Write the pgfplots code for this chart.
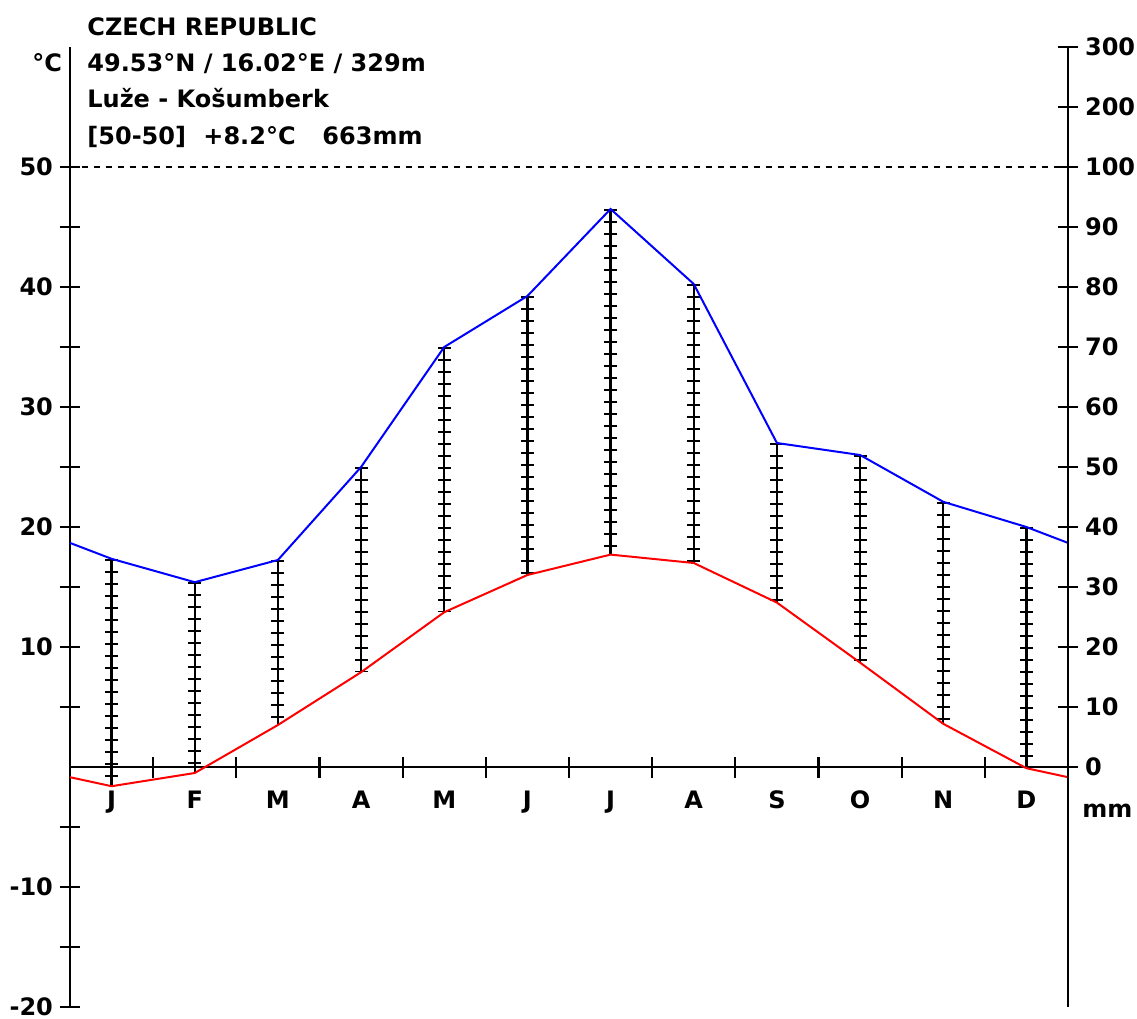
\documentclass[border=0pt]{standalone}
\usepackage{fontspec}
\setmainfont{DejaVu Sans}
\usepackage{pgfplots}
\pgfplotsset{compat=1.18}
\usepackage{pgfplotstable}

% monthly means: x = month centre, T in degC, P in mm
\pgfplotstableread{
x T P
0 -0.85 37.35
0.5 -1.6 34.7
1.5 -0.5 30.8
2.5 3.5 34.5
3.5 7.9 50.0
4.5 12.9 70.0
5.5 16.0 78.5
6.5 17.7 93.0
7.5 17.0 80.5
8.5 13.7 54.0
9.5 8.7 52.0
10.5 3.6 44.2
11.5 -0.1 40.0
12 -0.85 37.35
}\edges
\pgfplotstableread{
x T P
0.5 -1.6 34.7
1.5 -0.5 30.8
2.5 3.5 34.5
3.5 7.9 50.0
4.5 12.9 70.0
5.5 16.0 78.5
6.5 17.7 93.0
7.5 17.0 80.5
8.5 13.7 54.0
9.5 8.7 52.0
10.5 3.6 44.2
11.5 -0.1 40.0
}\months

\newcommand\f{\fontsize{12}{14}\selectfont\bfseries}

\begin{document}
\begin{tikzpicture}
\begin{axis}[
  at={(0,0)}, anchor=south west, scale only axis,
  width=499pt, height=480pt,
  xmin=0, xmax=12, ymin=-20, ymax=60,
  axis x line=middle, axis y line=left,
  axis line style={-, line width=1.2pt},
  tick align=center,
  major tick length=10pt, minor tick length=10.5pt,
  every tick/.style={black, line width=1.1pt},
  xtick={0.5,1.5,...,11.5},
  xticklabels={J,F,M,A,M,J,J,A,S,O,N,D},
  xticklabel style={yshift=-3.5pt},
  minor xtick={1,...,11},
  major x tick style={draw=none},
  minor x tick style={black, line width=1.1pt},
  ytick={-20,-10,10,20,30,40,50},
  yticklabels={-20,-10,10,20,30,40,50},
  minor ytick={-15,-5,5,15,25,35,45},
  minor y tick style={black, line width=1.1pt},
  ticklabel style={font=\f},
  clip=false,
]
\addplot[black, line width=0.7pt, dash pattern=on 3pt off 3pt] coordinates {(0,50) (12,50)};
\addplot[draw=none, no markers, forget plot,
  error bars/.cd, y dir=minus, y explicit, error mark=none,
  error bar style={draw=black, solid, line width=1.2pt}]
  table[x=x, y expr=\thisrow{P}/2, y error expr=\thisrow{P}/2-\thisrow{T}] {\months};
\addplot[draw=none, no markers, forget plot,
  error bars/.cd, y dir=minus, y explicit, error mark=none,
  error bar style={draw=black, line width=6.5pt, dash pattern=on 1.1pt off 4.9pt}]
  table[x=x, y expr=\thisrow{P}/2, y error expr=\thisrow{P}/2-\thisrow{T}] {\months};
\addplot[blue, line width=1pt] table[x=x, y expr=\thisrow{P}/2] {\edges};
\addplot[red, line width=1pt] table[x=x, y=T] {\edges};
\end{axis}
\begin{axis}[
  at={(0,0)}, anchor=south west, scale only axis,
  width=499pt, height=480pt,
  xmin=0, xmax=12, ymin=-20, ymax=60,
  axis x line=none, axis y line=right,
  axis line style={-, line width=1.2pt},
  tick align=center,
  major tick length=10pt,
  every tick/.style={black, line width=1.1pt},
  ytick={0,5,...,60},
  yticklabels={0,10,20,30,40,50,60,70,80,90,100,200,300},
  ticklabel style={font=\f},
]
\end{axis}
\node[anchor=base west, inner sep=0pt, font=\f] at (8.5pt,485.5pt) {CZECH REPUBLIC};
\node[anchor=base west, inner sep=0pt, font=\f] at (8.5pt,467.5pt) {49.53°N / 16.02°E / 329m};
\node[anchor=base west, inner sep=0pt, font=\f] at (8.5pt,449.5pt) {Luže - Košumberk};
\node[anchor=base west, inner sep=0pt, font=\f] at (8.5pt,431pt) {[50-50]};
\node[anchor=base west, inner sep=0pt, font=\f] at (66.5pt,431pt) {+8.2°C};
\node[anchor=base west, inner sep=0pt, font=\f] at (126pt,431pt) {663mm};
\node[anchor=base west, inner sep=0pt, font=\f] at (-19pt,467.5pt) {°C};
\node[anchor=base west, inner sep=0pt, font=\f] at (506pt,94.5pt) {mm};
\pgfresetboundingbox
\useasboundingbox (-35pt,-6pt) rectangle (533.5pt,503.5pt);
\end{tikzpicture}
\end{document}
